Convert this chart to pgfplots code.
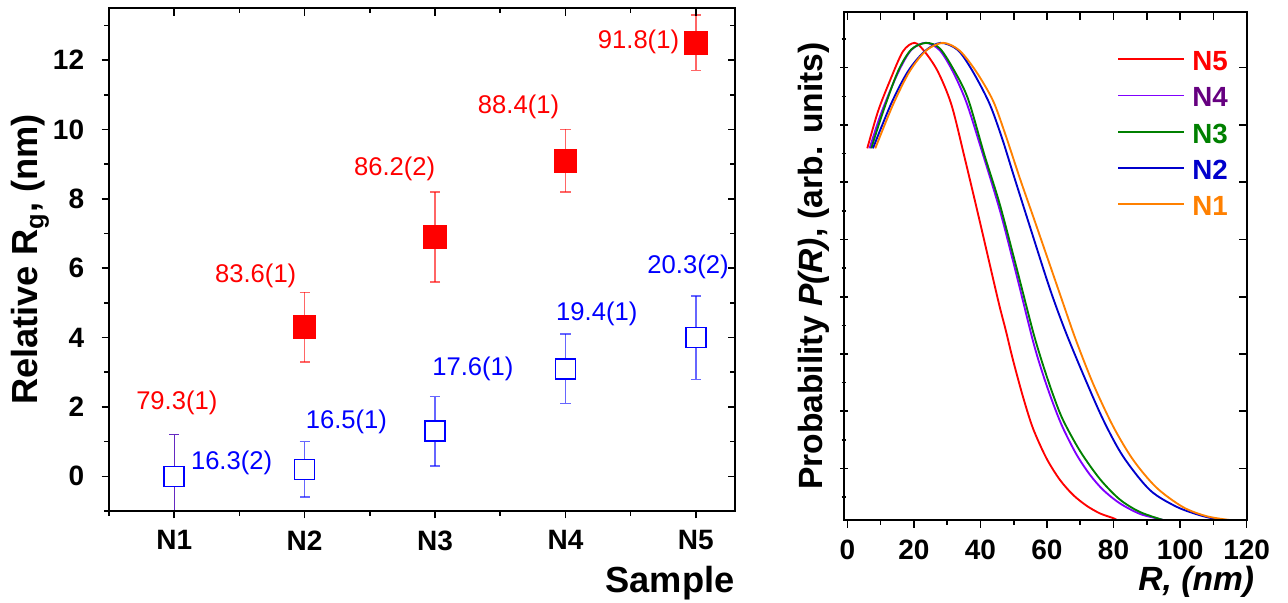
\documentclass[border=0pt]{standalone}
\usepackage{fontspec}
\setmainfont{Liberation Sans}
\usepackage{pgfplots}
\pgfplotsset{compat=1.18}
\definecolor{cviolet}{RGB}{128,0,255}
\definecolor{cviotext}{RGB}{102,0,128}
\definecolor{cgreen}{RGB}{0,128,0}
\definecolor{cblue}{RGB}{0,0,204}
\definecolor{corange}{RGB}{255,128,0}

\pgfplotsset{
  common/.style={scale only axis, anchor=south west,
    axis line style={line width=0.75pt},
    every tick/.style={black, line width=0.6pt},
    major tick length=2.8pt, minor tick length=1.8pt,
    /pgf/number format/assume math mode=true,
    ticklabel style={font=\bfseries\fontsize{10.5}{12}\selectfont},
    xticklabel style={yshift=-1pt}, yticklabel style={xshift=-3pt}},
  leftbox/.style={common, at={(40.875pt,34.5pt)}, width=234.75pt, height=188.6pt,
    xmin=0.5, xmax=5.3, ymin=-1, ymax=13.5},
  rightbox/.style={common, at={(316.5pt,31.1pt)}, width=151pt, height=190.4pt,
    xmin=-1, xmax=120, ymin=0, ymax=1.064},
}

\begin{document}
\begin{tikzpicture}
\useasboundingbox (0,0) rectangle (483pt,226.125pt);

% left panel: relative Rg per sample
\begin{axis}[leftbox,
  xtick={1,2,3,4,5}, xticklabels={N1,N2,N3,N4,N5},
  minor xtick={0.5,1.5,2.5,3.5,4.5},
  ytick={0,2,4,6,8,10,12}, minor ytick={-1,1,3,5,7,9,11,13},
  xtick pos=left, ytick pos=left, tick align=outside,
  xlabel={Sample}, ylabel={Relative R\textsubscript{g}, (nm)},
  label style={font=\bfseries\fontsize{13.6}{16}\selectfont, inner sep=0pt},
  xlabel style={at={([yshift=-27pt]axis description cs:1,0)}, anchor=east},
  ylabel style={at={([xshift=-26.7pt]axis description cs:0,0.5)}, anchor=base},
]
\addplot[only marks, mark=square*, mark size=3.75pt, mark options={fill=white, draw=red, line width=0.6pt},
  error bars/.cd, y dir=both, y explicit,
  error bar style={red, opacity=0.6, line width=0.5pt},
  error mark options={rotate=90, mark size=1.9pt, red, opacity=0.6, line width=0.5pt}]
  coordinates {(1,0) +- (0,1.2)};
\addplot[only marks, mark=square*, mark size=4.25pt, mark options={fill=red, draw=red},
  error bars/.cd, y dir=both, y explicit,
  error bar style={red, opacity=0.6, line width=0.5pt},
  error mark options={rotate=90, mark size=1.9pt, red, opacity=0.6, line width=0.5pt}]
  coordinates {(2,4.3) +- (0,1.0) (3,6.9) +- (0,1.3) (4,9.1) +- (0,0.9) (5,12.5) +- (0,0.8)};
\addplot[only marks, mark=square*, mark size=3.75pt, mark options={fill=white, draw=blue, line width=0.6pt},
  error bars/.cd, y dir=both, y explicit,
  error bar style={blue, opacity=0.6, line width=0.5pt},
  error mark options={rotate=90, mark size=1.9pt, blue, opacity=0.6, line width=0.5pt}]
  coordinates {(1,0) +- (0,1.2) (2,0.2) +- (0,0.8) (3,1.3) +- (0,1.0) (4,3.1) +- (0,1.0) (5,4.0) +- (0,1.2)};
\begin{scope}[font=\fontsize{9.6}{11}\selectfont]
\node[red] at (axis cs:1.02,2.11) {79.3(1)};
\node[red] at (axis cs:1.625,5.78) {83.6(1)};
\node[red] at (axis cs:2.69,8.86) {86.2(2)};
\node[red] at (axis cs:3.64,10.66) {88.4(1)};
\node[red] at (axis cs:4.56,12.52) {91.8(1)};
\node[blue] at (axis cs:1.44,0.38) {16.3(2)};
\node[blue] at (axis cs:2.32,1.57) {16.5(1)};
\node[blue] at (axis cs:3.29,3.11) {17.6(1)};
\node[blue] at (axis cs:4.24,4.68) {19.4(1)};
\node[blue] at (axis cs:4.94,6.05) {20.3(2)};
\end{scope}
\end{axis}
\begin{axis}[leftbox, xtick={1,2,3,4,5}, minor xtick={0.5,1.5,2.5,3.5,4.5},
  ytick={0,2,4,6,8,10,12}, minor ytick={-1,1,3,5,7,9,11,13},
  xticklabels={}, yticklabels={}, xtick pos=right, ytick pos=right, tick align=inside]
\end{axis}

% right panel: size distributions
\begin{axis}[rightbox,
  xtick={0,20,40,60,80,100,120}, minor xtick={10,30,50,70,90,110},
  ytick={0.108,0.228,0.348,0.468,0.588,0.708,0.828,0.948},
  minor ytick={0.048,0.168,0.288,0.408,0.528,0.648,0.768,0.888,1.008},
  yticklabels={}, xtick pos=left, ytick pos=left, xtick align=outside, ytick align=center,
  xlabel={\textit{R, (nm)}}, ylabel={Probability \textit{P(R)}, (arb. units)},
  label style={font=\bfseries\fontsize{12.6}{15}\selectfont, inner sep=0pt},
  xlabel style={at={([xshift=3pt,yshift=-23.1pt]axis description cs:1,0)}, anchor=east},
  ylabel style={at={([xshift=-7.9pt]axis description cs:0,0.5)}, anchor=base},
  legend style={draw=none, fill=none, inner sep=0pt, column sep=3pt,
    at={(axis description cs:0.678,0.925)}, anchor=north west,
    font=\bfseries\fontsize{10.4}{12}\selectfont,
    nodes={inner sep=0pt, text height=7.4pt, text depth=6.2pt}},
  legend cell align=left,
  legend image code/.code={\draw[#1] (0pt,3.7pt) -- (24.4pt,3.7pt);},
  every axis plot/.append style={line width=0.7pt, smooth, tension=0.5},
]
\addplot[red] coordinates {(6.0,0.779)(9.2,0.856)(12.7,0.919)(16.7,0.982)(20.2,1.0)(23.2,0.982)(27.2,0.940)(31.3,0.870)(35.3,0.758)(40.0,0.620)(45.3,0.461)(47.6,0.398)(49.8,0.335)(52.8,0.258)(55.8,0.192)(59.8,0.130)(63.8,0.085)(67.8,0.053)(71.9,0.030)(75.9,0.014)(79.9,0.004)(81.0,0.0)};
\addlegendentry{\textcolor{red}{N5}}
\addplot[cviolet] coordinates {(6.7,0.779)(10.2,0.853)(15.2,0.937)(19.2,0.985)(23.5,1.0)(27.7,0.985)(31.7,0.940)(35.7,0.877)(39.7,0.790)(45.8,0.650)(50.8,0.515)(55.8,0.375)(58.8,0.305)(61.8,0.245)(64.8,0.193)(68.9,0.137)(72.9,0.095)(76.9,0.063)(81.9,0.035)(87.9,0.013)(93.9,0.002)(95.0,0.0)};
\addlegendentry{\textcolor{cviotext}{N4}}
\addplot[cgreen] coordinates {(7.2,0.779)(10.7,0.855)(15.2,0.940)(19.2,0.986)(23.7,1.0)(27.7,0.989)(31.7,0.947)(36.2,0.884)(41.2,0.765)(45.8,0.662)(50.8,0.530)(55.8,0.395)(58.8,0.325)(61.8,0.263)(64.8,0.210)(69.9,0.145)(75.9,0.086)(81.9,0.043)(87.9,0.017)(94.9,0.0)};
\addlegendentry{\textcolor{cgreen}{N3}}
\addplot[cblue] coordinates {(7.7,0.779)(13.2,0.873)(18.2,0.940)(23.2,0.982)(28.0,1.0)(33.2,0.985)(37.7,0.940)(42.7,0.873)(46.5,0.800)(50.0,0.722)(55.0,0.612)(60.8,0.486)(65.4,0.398)(70.9,0.305)(76.9,0.210)(82.9,0.133)(90.9,0.063)(98.9,0.028)(106.0,0.010)(112.0,0.0)};
\addlegendentry{\textcolor{cblue}{N2}}
\addplot[corange] coordinates {(8.4,0.779)(13.7,0.870)(18.7,0.940)(23.7,0.984)(28.8,1.0)(33.7,0.984)(38.7,0.940)(43.7,0.880)(47.3,0.812)(52.0,0.713)(56.0,0.633)(60.8,0.536)(64.8,0.455)(68.7,0.377)(73.9,0.285)(79.9,0.196)(85.9,0.126)(92.9,0.068)(100.9,0.027)(108.0,0.008)(115.0,0.0)};
\addlegendentry{\textcolor{corange}{N1}}
\end{axis}
\begin{axis}[rightbox, xtick={0,10,...,120},
  ytick={0.108,0.228,0.348,0.468,0.588,0.708,0.828,0.948},
  xticklabels={}, yticklabels={}, xtick pos=right, ytick pos=right, tick align=inside]
\end{axis}
\end{tikzpicture}
\end{document}
